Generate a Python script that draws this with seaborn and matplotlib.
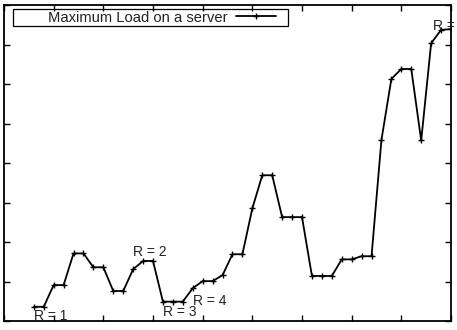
import matplotlib
matplotlib.use("Agg")
import matplotlib.pyplot as plt
import matplotlib.patches as mpatches
import seaborn as sns
import pandas as pd

# Data
rounds = list(range(3, 46))
max_load = [0.36, 0.36, 0.91, 0.91, 1.71, 1.71, 1.36, 1.36, 0.76, 0.76,
            1.31, 1.52, 1.52, 0.49, 0.49, 0.49, 0.83, 1.01, 1.01, 1.16,
            1.69, 1.69, 2.85, 3.69, 3.69, 2.63, 2.63, 2.63, 1.14, 1.14,
            1.14, 1.56, 1.56, 1.64, 1.64, 4.59, 6.13, 6.38, 6.38, 4.57,
            7.03, 7.37, 7.39]
series_name = "Maximum Load on a server"
label_texts = ["R = 1", "R = 2", "R = 3", "R = 4", "R = 5"]
label_x = [3, 13, 16, 19, 43.2]
label_y = [0.12, 1.74, 0.23, 0.5, 7.47]

sns.set_theme(style="ticks")
plt.rcParams['font.family'] = ['Liberation Sans', 'DejaVu Sans']

df = pd.DataFrame({"round": rounds, "load": max_load})

W, H = 457, 330
fig = plt.figure(figsize=(4.57, 3.30), dpi=100)
ax = fig.add_axes([4/W, 9/H, 447/W, 316/H])

sns.lineplot(data=df, x="round", y="load", ax=ax, color="black",
             marker="+", markersize=4.5, markeredgewidth=1.0,
             markeredgecolor="black", linewidth=1.3,
             label=series_name)

for t, x, y in zip(label_texts, label_x, label_y):
    ax.text(x, y, t, fontsize=10, color="#222222", ha="left", va="center",
            clip_on=False)

ax.set_xlim(0, 45)
ax.set_ylim(0, 8)
ax.set_xticks(range(0, 46, 5))
ax.set_yticks(range(0, 9))
ax.tick_params(direction="in", length=4, width=1, top=True, right=True,
               labelbottom=False, labelleft=False, color="black")
ax.set_xlabel("")
ax.set_ylabel("")
for s in ax.spines.values():
    s.set_color("black")
    s.set_linewidth(1.3)

# legend (text first, then sample) without its own frame
leg = ax.legend(loc="center left", bbox_to_anchor=(48/W, 1 - 17.5/H),
                bbox_transform=fig.transFigure,
                markerfirst=False, fontsize=10.6, frameon=False,
                handlelength=2.75, borderpad=0, borderaxespad=0,
                handletextpad=0.55)
for txt in leg.get_texts():
    txt.set_color("#222222")
# legend box as in the reference (wider than its content)
fig.patches.append(mpatches.Rectangle((13/W, 1 - 26/H), 275/W, 17/H,
                                      transform=fig.transFigure,
                                      fill=False, edgecolor="black",
                                      linewidth=0.9, zorder=5))

fig.savefig("out.png", dpi=100)
